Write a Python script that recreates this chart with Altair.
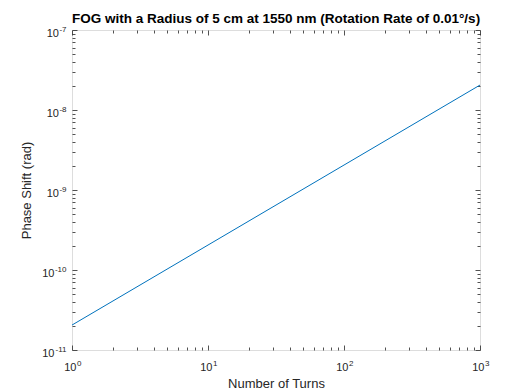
import json
import altair as alt
import pandas as pd

# Data
turns = [1, 10, 100, 1000]
phase_shift = [2.05e-11, 2.05e-10, 2.05e-9, 2.05e-8]

# Tick positions and labels (base "10" plus superscript exponent)
x_major = [1, 10, 100, 1000]
x_minor = [2, 3, 4, 5, 6, 7, 8, 9,
           20, 30, 40, 50, 60, 70, 80, 90,
           200, 300, 400, 500, 600, 700, 800, 900]
y_major = [1e-11, 1e-10, 1e-9, 1e-8, 1e-7]
y_minor = [2e-11, 3e-11, 4e-11, 5e-11, 6e-11, 7e-11, 8e-11, 9e-11,
           2e-10, 3e-10, 4e-10, 5e-10, 6e-10, 7e-10, 8e-10, 9e-10,
           2e-9, 3e-9, 4e-9, 5e-9, 6e-9, 7e-9, 8e-9, 9e-9,
           2e-8, 3e-8, 4e-8, 5e-8, 6e-8, 7e-8, 8e-8, 9e-8]
tick_base = "10"
x_exponents = ["0", "1", "2", "3"]
y_exponents = ["-11", "-10", "-9", "-8", "-7"]

df = pd.DataFrame({"N": turns, "phi": phase_shift})

FONT = "Liberation Sans, Arial, Helvetica, DejaVu Sans, sans-serif"
AX = "#262626"
MAJ = 5
MIN = 3
LFS = 11    # tick label size
EFS = 8     # exponent size

xscale = alt.Scale(type="log", domain=[1, 1000], nice=False)
yscale = alt.Scale(type="log", domain=[1e-11, 1e-7], nice=False)

x_exp_expr = json.dumps(x_exponents) + "[round(log(datum.value)/LN10)]"
y_exp_expr = json.dumps(y_exponents) + "[round(log(datum.value)/LN10)+11]"
base_expr = json.dumps(tick_base)

common = dict(domain=False, grid=False, tickColor=AX, tickWidth=0.8, labelFlush=False)


def tick_axis(orient, values, size):
    return alt.Axis(orient=orient, values=values, tickSize=size, offset=-size,
                    labels=False, title=None, **common)


x_main = alt.Axis(orient="bottom", values=x_major, tickSize=MAJ, offset=-MAJ,
                  labelExpr=base_expr, labelFont=FONT, labelFontSize=LFS,
                  labelColor=AX, labelPadding=11, labelAlign="right", labelOffset=4,
                  labelOverlap=False, labelBaseline="top",
                  title="Number of Turns",
                  titleFont=FONT, titleFontSize=13, titleFontWeight="normal",
                  titleColor=AX, titlePadding=5, **common)
x_exp = alt.Axis(orient="bottom", values=x_major, tickSize=MAJ, offset=-MAJ, tickOpacity=0,
                 labelExpr=x_exp_expr, labelFont=FONT, labelFontSize=EFS,
                 labelColor=AX, labelPadding=9, labelAlign="left", labelOffset=4.5,
                 labelOverlap=False, labelBaseline="top", title=None, **common)

y_main = alt.Axis(orient="left", values=y_major, tickSize=MAJ, offset=-MAJ,
                  labelExpr=base_expr, labelFont=FONT, labelFontSize=LFS,
                  labelColor=AX,
                  labelPadding={"condition": {"test": "datum.value < 5e-10", "value": 18},
                                "value": 13.6},
                  labelAlign="right", labelBaseline="middle", labelOffset=3,
                  labelOverlap=False,
                  title="Phase Shift (rad)",
                  titleFont=FONT, titleFontSize=13, titleFontWeight="normal",
                  titleColor=AX, titlePadding=8, **common)
y_exp = alt.Axis(orient="left", values=y_major, tickSize=MAJ, offset=-MAJ, tickOpacity=0,
                 labelExpr=y_exp_expr, labelFont=FONT, labelFontSize=EFS,
                 labelColor=AX, labelPadding=6, labelAlign="right", labelBaseline="middle",
                 labelOffset=-0.5, labelOverlap=False, title=None, **common)


def layer(xaxis, yaxis, opacity):
    return alt.Chart(df).mark_line(color="#0072BD", strokeWidth=1, opacity=opacity).encode(
        x=alt.X("N:Q", scale=xscale, axis=xaxis),
        y=alt.Y("phi:Q", scale=yscale, axis=yaxis),
    )


chart = alt.layer(
    layer(x_main, y_main, 1),
    layer(x_exp, y_exp, 0),
    layer(tick_axis("bottom", x_minor, MIN), tick_axis("left", y_minor, MIN), 0),
    layer(tick_axis("top", x_major, MAJ), tick_axis("right", y_major, MAJ), 0),
    layer(tick_axis("top", x_minor, MIN), tick_axis("right", y_minor, MIN), 0),
).resolve_axis(x="independent", y="independent").properties(
    width=408,
    height=320,
    autosize="none",
    padding={"left": 64, "top": 22, "right": 20, "bottom": 48},
    title=alt.TitleParams(
        "FOG with a Radius of 5 cm at 1550 nm (Rotation Rate of 0.01°/s)",
        font=FONT, fontSize=13.5, fontWeight="bold", color="#000000",
        anchor="middle", offset=0,
    ),
).configure_view(stroke=AX, strokeWidth=1, fill="white").configure(background="white")

chart.save("out.html", embed_options={"renderer": "svg", "actions": False})
